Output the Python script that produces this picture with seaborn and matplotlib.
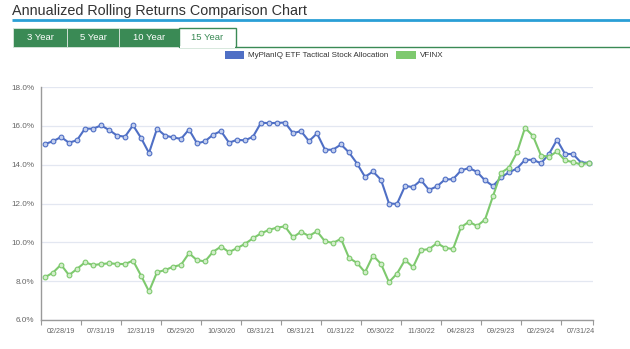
import matplotlib
matplotlib.use("Agg")
import matplotlib.pyplot as plt
from matplotlib.patches import Rectangle, Patch
from matplotlib.ticker import FuncFormatter, FixedLocator
import numpy as np
import pandas as pd
import seaborn as sns

# Month-end observation dates (business month end)
dates = pd.date_range("2018-12-31", periods=69, freq="BME")

tactical = [
    15.06, 15.21, 15.42, 15.13, 15.26, 15.86, 15.85, 16.02, 15.79, 15.50,
    15.44, 16.03, 15.38, 14.60, 15.85, 15.50, 15.40, 15.33, 15.81, 15.10,
    15.20, 15.54, 15.73, 15.13, 15.28, 15.25, 15.44, 16.16, 16.14, 16.15,
    16.17, 15.62, 15.73, 15.21, 15.61, 14.77, 14.77, 15.04, 14.63, 14.06,
    13.37, 13.65, 13.22, 12.00, 11.98, 12.90, 12.85, 13.20, 12.70, 12.88,
    13.24, 13.25, 13.70, 13.83, 13.63, 13.19, 12.90, 13.34, 13.61, 13.80,
    14.25, 14.25, 14.07, 14.55, 15.28, 14.55, 14.55, 14.11, 14.10,
]
vfinx = [
    8.20, 8.44, 8.85, 8.31, 8.63, 8.97, 8.83, 8.88, 8.92, 8.89,
    8.88, 9.06, 8.29, 7.47, 8.46, 8.57, 8.74, 8.84, 9.44, 9.08,
    9.02, 9.51, 9.78, 9.50, 9.70, 9.92, 10.21, 10.46, 10.64, 10.76,
    10.82, 10.26, 10.54, 10.33, 10.57, 10.05, 9.97, 10.18, 9.20, 8.94,
    8.46, 9.32, 8.89, 7.95, 8.39, 9.09, 8.72, 9.60, 9.65, 9.96,
    9.72, 9.65, 10.78, 11.06, 10.84, 11.17, 12.38, 13.58, 13.85, 14.63,
    15.90, 15.48, 14.47, 14.41, 14.68, 14.22, 14.13, 14.01, 14.10,
]
series_names = ["MyPlanIQ ETF Tactical Stock Allocation", "VFINX"]
colors = ["#4f6fc5", "#7ec96e"]
face_colors = ["#c3cfee", "#d3eecb"]
tabs = ["3 Year", "5 Year", "10 Year", "15 Year"]
title = "Annualized Rolling Returns Comparison Chart"

n = len(dates)
df = pd.DataFrame({
    "idx": list(range(n)) * 2,
    "value": tactical + vfinx,
    "series": [series_names[0]] * n + [series_names[1]] * n,
})

sns.set_style("white")
plt.rcParams["font.family"] = ["Liberation Sans", "DejaVu Sans"]

W, H = 630, 349
fig = plt.figure(figsize=(W / 100, H / 100), dpi=100)

# Page furniture (title, tabs) drawn in pixel coordinates
bg = fig.add_axes([0, 0, 1, 1], zorder=0)
bg.set_xlim(0, W)
bg.set_ylim(H, 0)
bg.axis("off")
bg.text(12, 11.5, title, fontsize=10.4, color="#333333", va="center", ha="left")
bg.plot([12, W], [20, 20], color="#2a9fd6", lw=2, solid_capstyle="butt")

tab_edges = [13, 67, 119, 179, 236]
tab_green = "#3a8a55"
for i, name in enumerate(tabs):
    x0, x1 = tab_edges[i], tab_edges[i + 1]
    active = i == len(tabs) - 1
    if active:
        bg.add_patch(Rectangle((x0, 28), x1 - x0, 19, facecolor="white",
                               edgecolor=tab_green, lw=1))
        bg.add_patch(Rectangle((x0 + 0.6, 45.5), x1 - x0 - 1.2, 2.5,
                               facecolor="white", edgecolor="none", zorder=3))
        bg.text((x0 + x1) / 2, 37.5, name, fontsize=6.8, color=tab_green,
                ha="center", va="center")
    else:
        bg.add_patch(Rectangle((x0, 28), x1 - x0, 19, facecolor=tab_green,
                               edgecolor="#d9e6dd", lw=0.6))
        bg.text((x0 + x1) / 2, 37.5, name, fontsize=6.8, color="white",
                ha="center", va="center")
bg.plot([236, W], [46.5, 46.5], color=tab_green, lw=1)

# Main chart
ax = fig.add_axes([41 / W, 1 - 320 / H, (593 - 41) / W, (320 - 87) / H], zorder=1)
sns.lineplot(data=df, x="idx", y="value", hue="series", palette=colors,
             hue_order=series_names, ax=ax, legend=False, linewidth=1.5,
             marker="o", markersize=3.4, markeredgewidth=0.8)
for line, c, fc in zip(ax.lines, colors, face_colors):
    line.set_markerfacecolor(fc)
    line.set_markeredgecolor(c)

ax.set_xlim(-0.5, n - 0.5)
ax.set_ylim(6, 18)
ax.set_yticks(np.arange(6, 18.1, 2))
ax.yaxis.set_major_formatter(FuncFormatter(lambda v, _: f"{v:.1f}%"))
ax.grid(axis="y", color="#e3e7f1", lw=0.9)
ax.set_axisbelow(True)

label_pos = list(range(2, n, 5))
ax.set_xticks(label_pos)
ax.set_xticklabels([dates[i].strftime("%m/%d/%y") for i in label_pos])
ax.xaxis.set_minor_locator(FixedLocator(list(np.arange(-0.5, n, 5)) + [n - 0.5]))
ax.tick_params(axis="x", which="major", length=0, pad=6, labelsize=5.2,
               labelcolor="#666666")
ax.tick_params(axis="x", which="minor", length=3.5, width=0.8, color="#999999",
               direction="out", bottom=True)
ax.tick_params(axis="y", length=0, pad=5, labelsize=5.9, labelcolor="#666666")
ax.set_xlabel("")
ax.set_ylabel("")

for side in ["top", "right"]:
    ax.spines[side].set_visible(False)
for side in ["left", "bottom"]:
    ax.spines[side].set_color("#9a9a9a")
    ax.spines[side].set_linewidth(1.0)

handles = [Patch(facecolor=c, edgecolor="none") for c in colors]
fig.legend(handles, series_names, loc="center", bbox_to_anchor=(334 / W, 1 - 55 / H),
           ncol=2, frameon=False, fontsize=5.8, handlelength=2.4, handleheight=1.2,
           handletextpad=0.5, columnspacing=1.0, labelcolor="#333333")

fig.savefig("out.png", dpi=100)
